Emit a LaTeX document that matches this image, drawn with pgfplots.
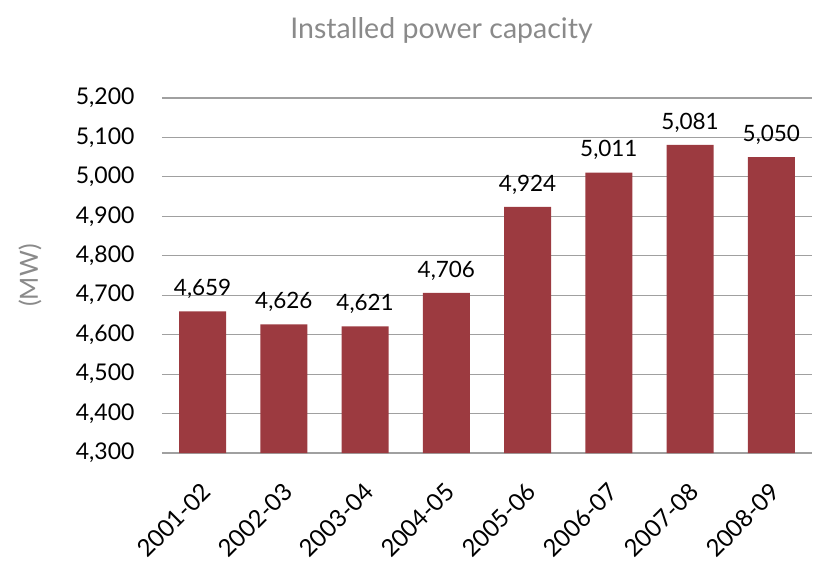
\documentclass[border=0pt]{standalone}
\usepackage{fontspec}
\setmainfont{Lato}
\usepackage{pgfplots}
\pgfplotsset{compat=1.18}
\definecolor{barred}{HTML}{9C3A40}
\definecolor{gridgray}{HTML}{A0A0A0}
\definecolor{titlegray}{HTML}{8A8A8A}
\begin{document}
\begin{tikzpicture}[x=1pt,y=1pt]
\useasboundingbox (-162,-109) rectangle (655,453);
\begin{axis}[
  at={(0,0)}, anchor=south west,
  scale only axis, width=650pt, height=355pt,
  ybar, bar width=47pt,
  xmin=-0.5, xmax=7.5,
  ymin=4300, ymax=5200,
  ytick={4300,4400,...,5200},
  xtick=data,
  xticklabels={2001-02,2002-03,2003-04,2004-05,2005-06,2006-07,2007-08,2008-09},
  xticklabel style={rotate=45, anchor=north east, font=\fontsize{24}{26}\selectfont, xshift=-18pt, yshift=-15pt},
  yticklabel style={font=\fontsize{23}{25}\selectfont, xshift=-24pt},
  /pgf/number format/.cd, 1000 sep={,}, assume math mode=true,
  /pgfplots/.cd,
  axis x line*=bottom, axis y line*=left,
  y axis line style={draw=none},
  x axis line style={draw=gridgray, line width=1.2pt},
  ymajorgrids, grid style={gridgray, line width=1.2pt},
  major tick length=0pt,
  ylabel={(MW)}, ylabel style={font=\fontsize{25}{27}\selectfont, text=titlegray, at={(axis description cs:-0.203,0.5)}, anchor=center},
  title={Installed power capacity},
  title style={font=\fontsize{28.5}{30}\selectfont, text=titlegray, at={(axis description cs:0.43,1)}, yshift=45pt, anchor=south},
  nodes near coords,
  nodes near coords style={font=\fontsize{22.5}{25}\selectfont, text=black, yshift=9pt, /pgf/number format/.cd, 1000 sep={,}, assume math mode=true},
  enlarge x limits=false,
]
\addplot[fill=barred, draw=none] coordinates {
(0,4659) (1,4626) (2,4621) (3,4706) (4,4924) (5,5011) (6,5081) (7,5050)
};
\end{axis}
\end{tikzpicture}
\end{document}
